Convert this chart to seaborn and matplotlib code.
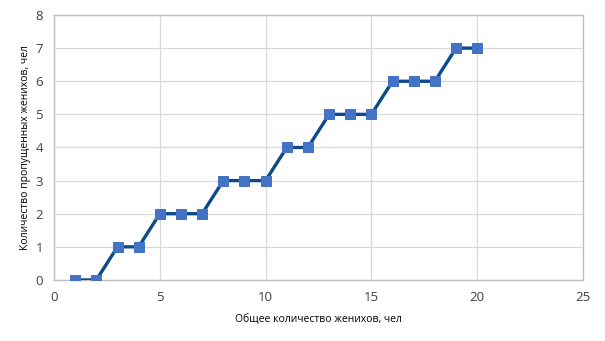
import matplotlib
matplotlib.use("Agg")
import matplotlib.pyplot as plt
import seaborn as sns
import pandas as pd

total_grooms = [1, 2, 3, 4, 5, 6, 7, 8, 9, 10, 11, 12, 13, 14, 15, 16, 17, 18, 19, 20]
skipped_grooms = [0, 0, 1, 1, 2, 2, 2, 3, 3, 3, 4, 4, 5, 5, 5, 6, 6, 6, 7, 7]
x_ticks = [0, 5, 10, 15, 20, 25]
y_ticks = [0, 1, 2, 3, 4, 5, 6, 7, 8]

sns.set_style("white")
plt.rcParams['font.family'] = ['Open Sans', 'DejaVu Sans']

df = pd.DataFrame({'x': total_grooms, 'y': skipped_grooms})

fig = plt.figure(figsize=(6.05, 3.41), dpi=100)
ax = fig.add_axes([0.0893, 0.179, 0.8743, 0.777])

sns.lineplot(data=df, x='x', y='y', ax=ax, color='#0C4A8A', linewidth=2.4,
             marker='s', markersize=7, markerfacecolor='#4472C4',
             markeredgecolor='#4472C4', zorder=3)

ax.set_xlim(0, 25)
ax.set_ylim(0, 8)
ax.set_xticks(x_ticks)
ax.set_yticks(y_ticks)
ax.grid(True, color='#D9D9D9', linewidth=0.9)
ax.set_axisbelow(True)
for s in ax.spines.values():
    s.set_color('#BFBFBF')
    s.set_linewidth(1.0)
ax.tick_params(axis='both', length=0, labelsize=9.5, colors='#404040', pad=8)
ax.tick_params(axis='y', pad=8)
ax.set_xlabel('Общее количество женихов, чел', fontsize=7.5, color='#000000', labelpad=7)
ax.set_ylabel('Количество пропущенных женихов, чел', fontsize=7.5, color='#000000', labelpad=3)

fig.savefig('out.png', dpi=100)
